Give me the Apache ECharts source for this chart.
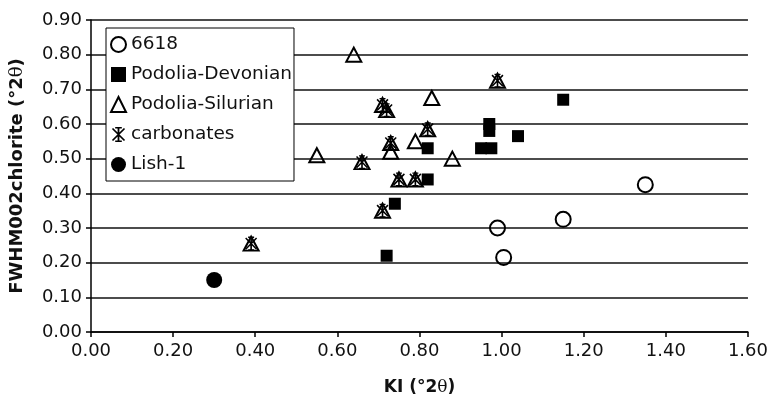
<!DOCTYPE html>
<html>
<head>
<meta charset="utf-8">
<script src="https://cdn.jsdelivr.net/npm/echarts@6/dist/echarts.min.js"></script>
<style>
  html, body { margin: 0; padding: 0; background: #fff; }
  #chart { width: 771px; height: 404px; }
</style>
</head>
<body>
<div id="chart"></div>
<script>
// Axis ticks
const xTicks = [0, 0.2, 0.4, 0.6, 0.8, 1.0, 1.2, 1.4, 1.6];
const yTicks = [0, 0.1, 0.2, 0.3, 0.4, 0.5, 0.6, 0.7, 0.8, 0.9];

// Series values: [KI, FWHM002chlorite]
const s6618 = [[1.35, 0.425], [1.15, 0.325], [0.99, 0.30], [1.005, 0.215]];
const podoliaDevonian = [
  [1.15, 0.67], [0.97, 0.60], [0.97, 0.58], [1.04, 0.565], [0.95, 0.53],
  [0.975, 0.53], [0.82, 0.53], [0.82, 0.44], [0.74, 0.37], [0.72, 0.22]
];
const podoliaSilurian = [
  [0.64, 0.80], [0.83, 0.675], [0.79, 0.55], [0.55, 0.51], [0.88, 0.50], [0.73, 0.52],
  [0.99, 0.725], [0.71, 0.655], [0.72, 0.64], [0.82, 0.585], [0.73, 0.545],
  [0.66, 0.49], [0.75, 0.44], [0.79, 0.44], [0.71, 0.35], [0.39, 0.255]
];
const carbonates = [
  [0.99, 0.725], [0.71, 0.655], [0.72, 0.64], [0.82, 0.585], [0.73, 0.545],
  [0.66, 0.49], [0.75, 0.44], [0.79, 0.44], [0.71, 0.35], [0.39, 0.255]
];
const lish1 = [[0.30, 0.15]];

const FONT = '"DejaVu Sans", "Liberation Sans", sans-serif';
const INK = '#111';

// asterisk marker: vertical bar with caps plus two diagonals
const STAR = 'path://M4.4,0L5.6,0L5.6,10L4.4,10Z M2.8,0L7.2,0L7.2,1L2.8,1Z M2.8,9L7.2,9L7.2,10L2.8,10Z M0.6,1.4L1.4,0.6L9.4,8.6L8.6,9.4Z M8.6,0.6L9.4,1.4L1.4,9.4L0.6,8.6Z';

const chart = echarts.init(document.getElementById('chart'), null, { renderer: 'canvas' });

const hollow = { color: 'rgba(255,255,255,0)', borderColor: '#000', borderWidth: 2, opacity: 1 };
const solid = { color: '#000', opacity: 1 };

chart.setOption({
  animation: false,
  backgroundColor: '#fff',
  textStyle: { fontFamily: FONT },
  grid: { left: 89, right: 6, top: 20, bottom: 72, containLabel: false },
  legend: {
    orient: 'vertical',
    left: 106,
    top: 28,
    backgroundColor: '#fff',
    borderColor: '#000',
    borderWidth: 1,
    borderRadius: 0,
    padding: [7, 2, 7, 4],
    itemGap: 11,
    itemWidth: 15,
    itemHeight: 15,
    selectedMode: false,
    textStyle: { fontFamily: FONT, fontSize: 18.5, lineHeight: 19, color: INK },
    data: ['6618', 'Podolia-Devonian', 'Podolia-Silurian', 'carbonates', 'Lish-1']
  },
  xAxis: {
    type: 'value',
    min: xTicks[0],
    max: xTicks[xTicks.length - 1],
    interval: 0.2,
    name: 'KI (°2{t|θ})',
    nameLocation: 'middle',
    nameGap: 47,
    nameTextStyle: {
      fontFamily: FONT, fontSize: 17, fontWeight: 'bold', color: INK,
      rich: { t: { fontFamily: '"DejaVu Serif", serif', fontSize: 17, fontWeight: 'normal', color: INK } }
    },
    axisLine: { show: true, lineStyle: { color: '#000', width: 1.5 } },
    axisTick: { show: true, inside: false, length: 5, lineStyle: { color: '#000', width: 1.5 } },
    axisLabel: { margin: 10, fontSize: 18, color: INK, fontFamily: FONT, formatter: v => v.toFixed(2) },
    splitLine: { show: false }
  },
  yAxis: {
    type: 'value',
    min: yTicks[0],
    max: yTicks[yTicks.length - 1],
    interval: 0.1,
    name: 'FWHM002chlorite (°2{t|θ})',
    nameLocation: 'middle',
    nameRotate: 90,
    nameGap: 65,
    nameTextStyle: {
      fontFamily: FONT, fontSize: 18, fontWeight: 'bold', color: INK,
      rich: { t: { fontFamily: '"DejaVu Serif", serif', fontSize: 18, fontWeight: 'normal', color: INK } }
    },
    axisLine: { show: true, lineStyle: { color: '#000', width: 1.5 } },
    axisTick: { show: true, inside: false, length: 5, lineStyle: { color: '#000', width: 1.5 } },
    axisLabel: { margin: 9, fontSize: 18, color: INK, fontFamily: FONT, formatter: v => v.toFixed(2) },
    splitLine: { show: true, lineStyle: { color: '#111', width: 1.5 } }
  },
  series: [
    {
      name: '6618', type: 'scatter', data: s6618,
      symbol: 'circle', symbolSize: 15, itemStyle: hollow
    },
    {
      name: 'Podolia-Devonian', type: 'scatter', data: podoliaDevonian,
      symbol: 'rect', symbolSize: 12, itemStyle: solid
    },
    {
      name: 'Podolia-Silurian', type: 'scatter', data: podoliaSilurian,
      symbol: 'triangle', symbolSize: [15, 14], itemStyle: hollow
    },
    {
      name: 'carbonates', type: 'scatter', data: carbonates,
      symbol: STAR, symbolSize: [12, 14], itemStyle: solid
    },
    {
      name: 'Lish-1', type: 'scatter', data: lish1,
      symbol: 'circle', symbolSize: 16, itemStyle: solid
    }
  ]
});
</script>
</body>
</html>
